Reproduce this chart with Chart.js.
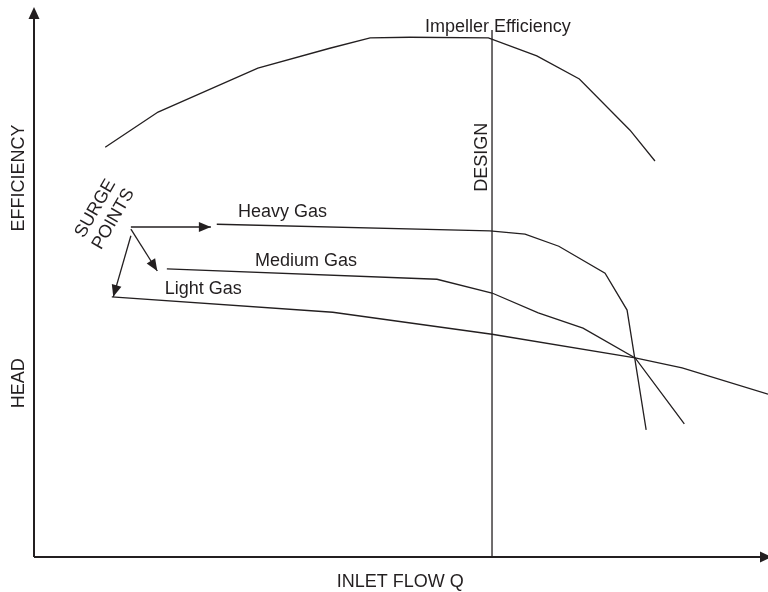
<!DOCTYPE html>
<html lang="en">
<head>
    <meta charset="UTF-8">
    <title>Compressor Head and Efficiency vs Inlet Flow</title>
    <script src="https://cdn.jsdelivr.net/npm/chart.js"></script>
    <style>
        body { margin: 0; background: #fff; }
    </style>
</head>
<body>

    <canvas id="surgeChart" width="768" height="592"></canvas>

    <script>
        // Curve data: flow (0-100) vs head/efficiency (0-100)
        const impellerFlow = [9.7, 16.9, 30.5, 40.3, 45.8, 51.2, 61.9, 68.5, 74.3, 81.2, 84.6];
        const impellerEff  = [74.5, 80.9, 88.9, 92.5, 94.4, 94.5, 94.4, 91.1, 86.9, 77.6, 72.0];

        const heavyFlow = [24.9, 62.1, 66.9, 71.5, 77.8, 80.8, 83.4];
        const heavyHead = [60.5, 59.3, 58.7, 56.5, 51.6, 44.9, 23.1];

        const mediumFlow = [18.1, 54.9, 62.4, 68.7, 74.8, 81.9, 88.6];
        const mediumHead = [52.4, 50.5, 48.0, 44.4, 41.6, 36.2, 24.2];

        const lightFlow = [10.6, 40.7, 62.4, 81.9, 88.3, 100];
        const lightHead = [47.3, 44.5, 40.5, 36.2, 34.4, 29.6];

        const designFlow = [62.4, 62.4];
        const designHead = [0, 95.8];

        // surge point arrows: start -> end
        const arrowFlow = [[13.2, 24.1], [13.2, 16.8], [13.2, 10.8]];
        const arrowHead = [[60.0, 60.0], [59.6, 52.0], [58.4, 47.3]];

        const ink = '#231f20';
        const font = '18px "Liberation Sans", Arial, sans-serif';

        function pts(xs, ys) {
            return xs.map((x, i) => ({ x: x, y: ys[i] }));
        }

        function curve(label, xs, ys) {
            return {
                label: label,
                data: pts(xs, ys),
                showLine: true,
                borderColor: ink,
                borderWidth: 1.3,
                pointRadius: 0,
                tension: 0
            };
        }

        const datasets = [
            curve('Impeller Efficiency', impellerFlow, impellerEff),
            curve('Heavy Gas', heavyFlow, heavyHead),
            curve('Medium Gas', mediumFlow, mediumHead),
            curve('Light Gas', lightFlow, lightHead),
            curve('Design', designFlow, designHead)
        ];
        arrowFlow.forEach((xs, i) => {
            const ds = curve('arrow' + i, xs, arrowHead[i]);
            ds.isArrow = true;
            datasets.push(ds);
        });

        // text labels, placed in data units
        const labels = [
            { text: 'Impeller Efficiency', x: 63.2, y: 95.45, align: 'center', rot: 0 },
            { text: 'Heavy Gas', x: 27.8, y: 61.8, align: 'left', rot: 0 },
            { text: 'Medium Gas', x: 30.1, y: 53.0, align: 'left', rot: 0 },
            { text: 'Light Gas', x: 17.8, y: 47.8, align: 'left', rot: 0 },
            { text: 'DESIGN', x: 61.7, y: 72.7, align: 'center', rot: -90 },
            { text: 'EFFICIENCY', x: -1.36, y: 68.9, align: 'center', rot: -90 },
            { text: 'HEAD', x: -1.36, y: 31.6, align: 'center', rot: -90 },
            { text: 'INLET FLOW Q', x: 49.9, y: -5.45, align: 'center', rot: 0 }
        ];

        function arrowTip(ctx, x1, y1, x2, y2, len, half) {
            const a = Math.atan2(y2 - y1, x2 - x1);
            ctx.beginPath();
            ctx.moveTo(x2, y2);
            ctx.lineTo(x2 - len * Math.cos(a) + half * Math.sin(a), y2 - len * Math.sin(a) - half * Math.cos(a));
            ctx.lineTo(x2 - len * Math.cos(a) - half * Math.sin(a), y2 - len * Math.sin(a) + half * Math.cos(a));
            ctx.closePath();
            ctx.fill();
        }

        const decorations = {
            id: 'decorations',
            afterDatasetsDraw(chart) {
                const ctx = chart.ctx;
                const xs = chart.scales.x, ys = chart.scales.y;
                const area = chart.chartArea;
                ctx.save();
                ctx.fillStyle = ink;
                ctx.strokeStyle = ink;

                // axes with arrows
                const x0 = xs.getPixelForValue(0), y0 = ys.getPixelForValue(0);
                ctx.lineWidth = 2;
                ctx.beginPath();
                ctx.moveTo(x0, y0);
                ctx.lineTo(x0, area.top + 8);
                ctx.moveTo(x0, y0);
                ctx.lineTo(area.right - 6, y0);
                ctx.stroke();
                arrowTip(ctx, x0, y0, x0, area.top, 12, 5.5);
                arrowTip(ctx, x0, y0, area.right + 4, y0, 12, 5.5);

                // arrow heads at the surge point arrows
                chart.data.datasets.forEach((ds, i) => {
                    if (!ds.isArrow) return;
                    const p = chart.getDatasetMeta(i).data;
                    arrowTip(ctx, p[0].x, p[0].y, p[1].x, p[1].y, 12, 5);
                });

                // labels
                ctx.font = font;
                ctx.textBaseline = 'alphabetic';
                labels.forEach(l => {
                    ctx.save();
                    ctx.translate(xs.getPixelForValue(l.x), ys.getPixelForValue(l.y));
                    ctx.rotate(l.rot * Math.PI / 180);
                    ctx.textAlign = l.align;
                    ctx.fillText(l.text, 0, 0);
                    ctx.restore();
                });

                // SURGE POINTS, tilted
                ctx.save();
                ctx.translate(xs.getPixelForValue(9.6), ys.getPixelForValue(62.4));
                ctx.rotate(-60 * Math.PI / 180);
                ctx.textAlign = 'center';
                ctx.textBaseline = 'middle';
                ctx.fillText('SURGE', 0, -10.5);
                ctx.fillText('POINTS', 0, 10.5);
                ctx.restore();

                ctx.restore();
            }
        };

        new Chart(document.getElementById('surgeChart').getContext('2d'), {
            type: 'scatter',
            data: { datasets: datasets },
            options: {
                responsive: false,
                animation: false,
                layout: { padding: { left: 34, right: 0, top: 7, bottom: 35 } },
                scales: {
                    x: { type: 'linear', min: 0, max: 100, display: false },
                    y: { type: 'linear', min: 0, max: 100, display: false }
                },
                plugins: {
                    legend: { display: false },
                    tooltip: { enabled: false }
                }
            },
            plugins: [decorations]
        });
    </script>
</body>
</html>
